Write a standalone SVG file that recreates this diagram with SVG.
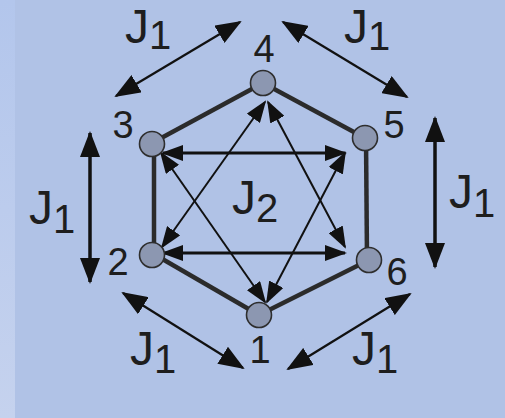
<svg xmlns="http://www.w3.org/2000/svg" width="505" height="418" viewBox="0 0 505 418">
<defs>
<linearGradient id="strip" x1="0" y1="0" x2="0" y2="1">
<stop offset="0" stop-color="#b3c6ec"/>
<stop offset="1" stop-color="#c5d2ee"/>
</linearGradient>
<marker id="big" markerUnits="userSpaceOnUse" markerWidth="26" markerHeight="20" viewBox="0 0 26 20" refX="24" refY="10" orient="auto-start-reverse">
<path d="M0,0 L26,10 L0,20 z" fill="#111"/>
</marker>
<marker id="mid" markerUnits="userSpaceOnUse" markerWidth="22" markerHeight="16" viewBox="0 0 22 16" refX="20" refY="8" orient="auto-start-reverse">
<path d="M0,0 L22,8 L0,16 z" fill="#111"/>
</marker>
</defs>
<style>
.bg{fill:#b0c2e6}
.edge{stroke:#2b2b2b;stroke-width:4.5;fill:none}
.in{stroke:#111;fill:none;marker-start:url(#mid);marker-end:url(#mid)}
.h{stroke-width:3.2}
.d{stroke-width:2}
.out{stroke:#111;fill:none;marker-start:url(#big);marker-end:url(#big)}
.od{stroke-width:2.2}
.ov{stroke-width:3.5}
.node{fill:#8c97b1;stroke:#2e2e2e;stroke-width:1.6}
text{font-family:"Liberation Sans",Arial,sans-serif;fill:#1e1e1e}
.num{font-size:38px}
.J{font-size:48px}
.sub{font-size:40px}
</style>
<rect class="bg" x="0" y="0" width="505" height="418"/>
<rect x="0" y="0" width="15" height="418" fill="url(#strip)"/>

<g id="connectors">
<g id="hexagon">
<line class="edge" x1="263" y1="83" x2="152" y2="143"/>
<line class="edge" x1="263" y1="83" x2="365" y2="138"/>
<line class="edge" x1="154" y1="143" x2="154" y2="253"/>
<line class="edge" x1="366" y1="138" x2="367" y2="260"/>
<line class="edge" x1="152" y1="253" x2="259" y2="315"/>
<line class="edge" x1="369" y1="260" x2="259" y2="315"/>
</g>
<g id="inner">
<line class="in h" x1="163" y1="153" x2="345" y2="153"/>
<line class="in h" x1="163" y1="253" x2="345" y2="253"/>
<line class="in d" x1="265" y1="102" x2="162" y2="247"/>
<line class="in d" x1="268" y1="102" x2="345" y2="247"/>
<line class="in d" x1="161" y1="153" x2="265" y2="302"/>
<line class="in d" x1="345" y1="153" x2="267" y2="302"/>
</g>
<g id="outer">
<line class="out od" x1="116" y1="96" x2="240" y2="22"/>
<line class="out od" x1="283" y1="22" x2="407" y2="97"/>
<line class="out ov" x1="90" y1="133" x2="90" y2="282"/>
<line class="out ov" x1="435" y1="118" x2="435" y2="267"/>
<line class="out od" x1="123" y1="293" x2="243" y2="368"/>
<line class="out od" x1="410" y1="294" x2="288" y2="369"/>
</g>
</g>

<g id="node4"><circle class="node" cx="263" cy="83" r="12.5"/><text class="num" x="264" y="62" text-anchor="middle">4</text></g>
<g id="node3"><circle class="node" cx="152" cy="144" r="12.5"/><text class="num" x="123" y="138" text-anchor="middle">3</text></g>
<g id="node5"><circle class="node" cx="365" cy="138" r="12.5"/><text class="num" x="394" y="138" text-anchor="middle">5</text></g>
<g id="node2"><circle class="node" cx="152" cy="255" r="12.5"/><text class="num" x="118" y="275" text-anchor="middle">2</text></g>
<g id="node6"><circle class="node" cx="369" cy="260" r="12.5"/><text class="num" x="397" y="285" text-anchor="middle">6</text></g>
<g id="node1"><circle class="node" cx="259" cy="315" r="12.5"/><text class="num" x="260" y="363" text-anchor="middle">1</text></g>

<g id="labels">
<text x="125" y="43"><tspan class="J">J</tspan><tspan class="sub" dy="6">1</tspan></text>
<text x="344" y="43"><tspan class="J">J</tspan><tspan class="sub" dy="7">1</tspan></text>
<text x="29" y="224"><tspan class="J">J</tspan><tspan class="sub" dy="9">1</tspan></text>
<text x="449" y="208"><tspan class="J">J</tspan><tspan class="sub" dy="9">1</tspan></text>
<text x="232" y="214"><tspan class="J">J</tspan><tspan class="sub" dy="8">2</tspan></text>
<text x="130" y="365"><tspan class="J">J</tspan><tspan class="sub" dy="8">1</tspan></text>
<text x="352" y="365"><tspan class="J">J</tspan><tspan class="sub" dy="8">1</tspan></text>
</g>
</svg>
